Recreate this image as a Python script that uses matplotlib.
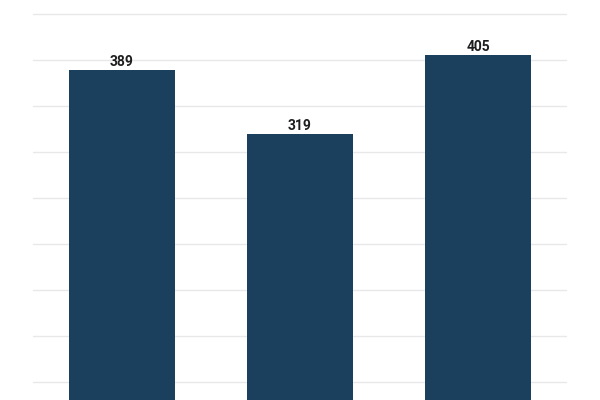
import matplotlib.pyplot as plt

# data
categories = ["A", "B", "C"]
values = [389, 319, 405]

bar_color = "#1a405e"

fig = plt.figure(figsize=(6, 4), dpi=100)
ax = fig.add_axes([0.055, 0.0, 0.89, 1.0])

bars = ax.bar(range(len(categories)), values, width=0.6, color=bar_color, zorder=2)

for i, v in enumerate(values):
    ax.text(i, v + 1.5, str(v), ha="center", va="bottom",
            fontsize=10, fontweight="bold", family="Roboto", color="#1e1e1e")

ax.set_xlim(-0.5, 2.5)
ax.set_ylim(30.4, 465.2)
ax.set_yticks(range(50, 451, 50))
ax.yaxis.grid(True, color="#e8e8e8", linewidth=1, zorder=0)
ax.tick_params(left=False, bottom=False, labelleft=False, labelbottom=False)
for s in ax.spines.values():
    s.set_visible(False)

fig.savefig("out.png", dpi=100)
